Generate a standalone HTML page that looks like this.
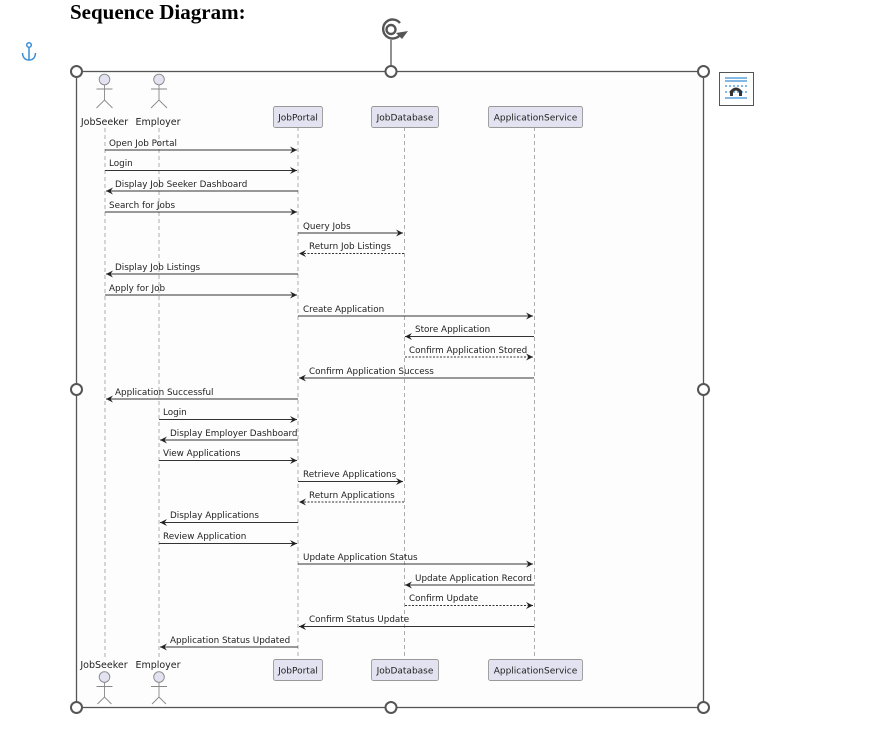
<!DOCTYPE html>
<html><head><meta charset="utf-8"><style>
html,body{margin:0;padding:0;background:#fff;width:869px;height:739px;overflow:hidden}
svg{display:block}
</style></head><body>
<svg width="869" height="739" viewBox="0 0 869 739" xmlns="http://www.w3.org/2000/svg">
<defs>
<marker id="a" markerWidth="8" markerHeight="8" refX="7" refY="4" orient="auto" markerUnits="userSpaceOnUse">
<path d="M0,0.5 L7,4 L0,7.5 L2.5,4 Z" fill="#222"/>
</marker>
</defs>
<text x="70" y="19" font-family="Liberation Serif" font-weight="bold" font-size="21" fill="#000">Sequence Diagram:</text>
<g stroke="#3a8fd6" stroke-width="1.5" fill="none">
<circle cx="29" cy="45" r="2.3"/>
<line x1="29" y1="47.5" x2="29" y2="60"/>
<path d="M22.5,53 Q23,60 29,60 Q35,60 35.5,53"/>
</g>
<!-- rotate handle -->
<g stroke="#555" stroke-width="2.4" fill="none">
<path d="M400,35 A9.5,9.5 0 1 1 400,23"/>
<circle cx="391" cy="29.5" r="4.5"/>
</g>
<path d="M396,33 L408,31 L402,39 Z" fill="#555"/>
<line x1="391" y1="40" x2="391" y2="66" stroke="#555" stroke-width="1.3"/>
<rect x="719.5" y="72.5" width="34" height="33" fill="#fff" stroke="#555" stroke-width="1"/>
<g stroke="#3a8fd6" stroke-width="1.3">
<line x1="725" y1="78" x2="747" y2="78"/><line x1="725" y1="81" x2="747" y2="81"/>
<line x1="725" y1="98" x2="747" y2="98"/>
<line x1="725" y1="86" x2="747" y2="86" stroke-dasharray="2,2"/>
<line x1="725" y1="92" x2="747" y2="92" stroke-dasharray="2,2"/>
</g>
<path d="M730,96 L730,91 Q736,84 742,91 L742,96 L739,96 L739,92 Q736,89 733,92 L733,96 Z" fill="#333"/>
<rect x="76.5" y="71.5" width="627" height="636" fill="#fdfdfd" stroke="#555" stroke-width="1.3"/>
<g stroke="#999" stroke-width="0.8" stroke-dasharray="4,3">
<line x1="105" y1="128" x2="105" y2="660"/>
<line x1="159" y1="128" x2="159" y2="660"/>
<line x1="298" y1="127" x2="298" y2="659"/>
<line x1="404.5" y1="127" x2="404.5" y2="659"/>
<line x1="534.5" y1="127" x2="534.5" y2="659"/>
</g>
<g stroke="#888" stroke-width="0.9" fill="#e2e2f0">
<circle cx="104.5" cy="79.5" r="5.3"/>
<circle cx="159" cy="79.5" r="5.3"/>
<circle cx="104.5" cy="677" r="5.3"/>
<circle cx="159" cy="677" r="5.3"/>
</g>
<g stroke="#888" stroke-width="0.9" fill="none">
<path d="M104.5,85 V100 M96.5,89 H112.5 M96.5,108 L104.5,100 L112.5,108"/>
<path d="M159,85 V100 M151,89 H167 M151,108 L159,100 L167,108"/>
<path d="M104.5,682.5 V697 M96.5,686.5 H112.5 M97.5,704 L104.5,697 L111.5,704"/>
<path d="M159,682.5 V697 M151,686.5 H167 M152,704 L159,697 L166,704"/>
</g>
<g font-family="DejaVu Sans, Liberation Sans, sans-serif" font-size="9.5" fill="#222">
<text x="104.5" y="125" text-anchor="middle">JobSeeker</text>
<text x="158" y="125" text-anchor="middle">Employer</text>
<text x="104" y="668" text-anchor="middle">JobSeeker</text>
<text x="158" y="668" text-anchor="middle">Employer</text>
</g>
<g fill="#e2e2f0" stroke="#999" stroke-width="0.9">
<rect x="273.5" y="106.5" width="49" height="21" rx="2"/>
<rect x="371.5" y="106.5" width="67" height="21" rx="2"/>
<rect x="488.5" y="106.5" width="94" height="21" rx="2"/>
<rect x="273.5" y="659.5" width="49" height="21" rx="2"/>
<rect x="371.5" y="659.5" width="67" height="21" rx="2"/>
<rect x="488.5" y="659.5" width="94" height="21" rx="2"/>
</g>
<g font-family="DejaVu Sans, Liberation Sans, sans-serif" font-size="9" fill="#222" text-anchor="middle">
<text x="298" y="120.5">JobPortal</text>
<text x="405" y="120.5">JobDatabase</text>
<text x="535.5" y="120.5">ApplicationService</text>
<text x="298" y="673.5">JobPortal</text>
<text x="405" y="673.5">JobDatabase</text>
<text x="535.5" y="673.5">ApplicationService</text>
</g>
<g stroke="#333" stroke-width="0.9" marker-end="url(#a)">
<line x1="105" y1="150" x2="297" y2="150"/>
<line x1="105" y1="170.5" x2="297" y2="170.5"/>
<line x1="298" y1="191" x2="106" y2="191"/>
<line x1="105" y1="212" x2="297" y2="212"/>
<line x1="298" y1="233" x2="403" y2="233"/>
<line x1="404" y1="253.5" x2="299" y2="253.5" stroke-dasharray="2,1.5"/>
<line x1="298" y1="274" x2="106" y2="274"/>
<line x1="105" y1="295" x2="297" y2="295"/>
<line x1="298" y1="316" x2="533" y2="316"/>
<line x1="534" y1="336.5" x2="405" y2="336.5"/>
<line x1="405" y1="357" x2="533" y2="357" stroke-dasharray="2,1.5"/>
<line x1="534" y1="378" x2="299" y2="378"/>
<line x1="298" y1="399" x2="106" y2="399"/>
<line x1="159" y1="419.5" x2="297" y2="419.5"/>
<line x1="298" y1="440" x2="160" y2="440"/>
<line x1="159" y1="460.5" x2="297" y2="460.5"/>
<line x1="298" y1="481.5" x2="403" y2="481.5"/>
<line x1="404" y1="502" x2="299" y2="502" stroke-dasharray="2,1.5"/>
<line x1="298" y1="522.5" x2="160" y2="522.5"/>
<line x1="159" y1="543.5" x2="297" y2="543.5"/>
<line x1="298" y1="564" x2="533" y2="564"/>
<line x1="534" y1="585" x2="405" y2="585"/>
<line x1="405" y1="605.5" x2="533" y2="605.5" stroke-dasharray="2,1.5"/>
<line x1="534" y1="626.5" x2="299" y2="626.5"/>
<line x1="298" y1="647" x2="160" y2="647"/>
</g>
<g font-family="DejaVu Sans, Liberation Sans, sans-serif" font-size="8.8" fill="#222">
<text x="109" y="146">Open Job Portal</text>
<text x="109" y="166">Login</text>
<text x="115" y="187">Display Job Seeker Dashboard</text>
<text x="109" y="208">Search for Jobs</text>
<text x="303" y="229">Query Jobs</text>
<text x="309" y="249">Return Job Listings</text>
<text x="115" y="270">Display Job Listings</text>
<text x="109" y="291">Apply for Job</text>
<text x="303" y="312">Create Application</text>
<text x="415" y="332">Store Application</text>
<text x="409" y="353">Confirm Application Stored</text>
<text x="309" y="374">Confirm Application Success</text>
<text x="115" y="395">Application Successful</text>
<text x="163" y="415">Login</text>
<text x="170" y="436">Display Employer Dashboard</text>
<text x="163" y="456">View Applications</text>
<text x="303" y="477">Retrieve Applications</text>
<text x="309" y="498">Return Applications</text>
<text x="170" y="518">Display Applications</text>
<text x="163" y="539">Review Application</text>
<text x="303" y="560">Update Application Status</text>
<text x="415" y="581">Update Application Record</text>
<text x="409" y="601">Confirm Update</text>
<text x="309" y="622">Confirm Status Update</text>
<text x="170" y="643">Application Status Updated</text>
</g>
<g fill="#fff" stroke="#555" stroke-width="2">
<circle cx="76.5" cy="71.5" r="5.5"/>
<circle cx="391" cy="71.5" r="5.5"/>
<circle cx="703.5" cy="71.5" r="5.5"/>
<circle cx="76.5" cy="389.5" r="5.5"/>
<circle cx="703.5" cy="389.5" r="5.5"/>
<circle cx="76.5" cy="707.5" r="5.5"/>
<circle cx="391" cy="707.5" r="5.5"/>
<circle cx="703.5" cy="707.5" r="5.5"/>
</g>
</svg>
</body></html>
